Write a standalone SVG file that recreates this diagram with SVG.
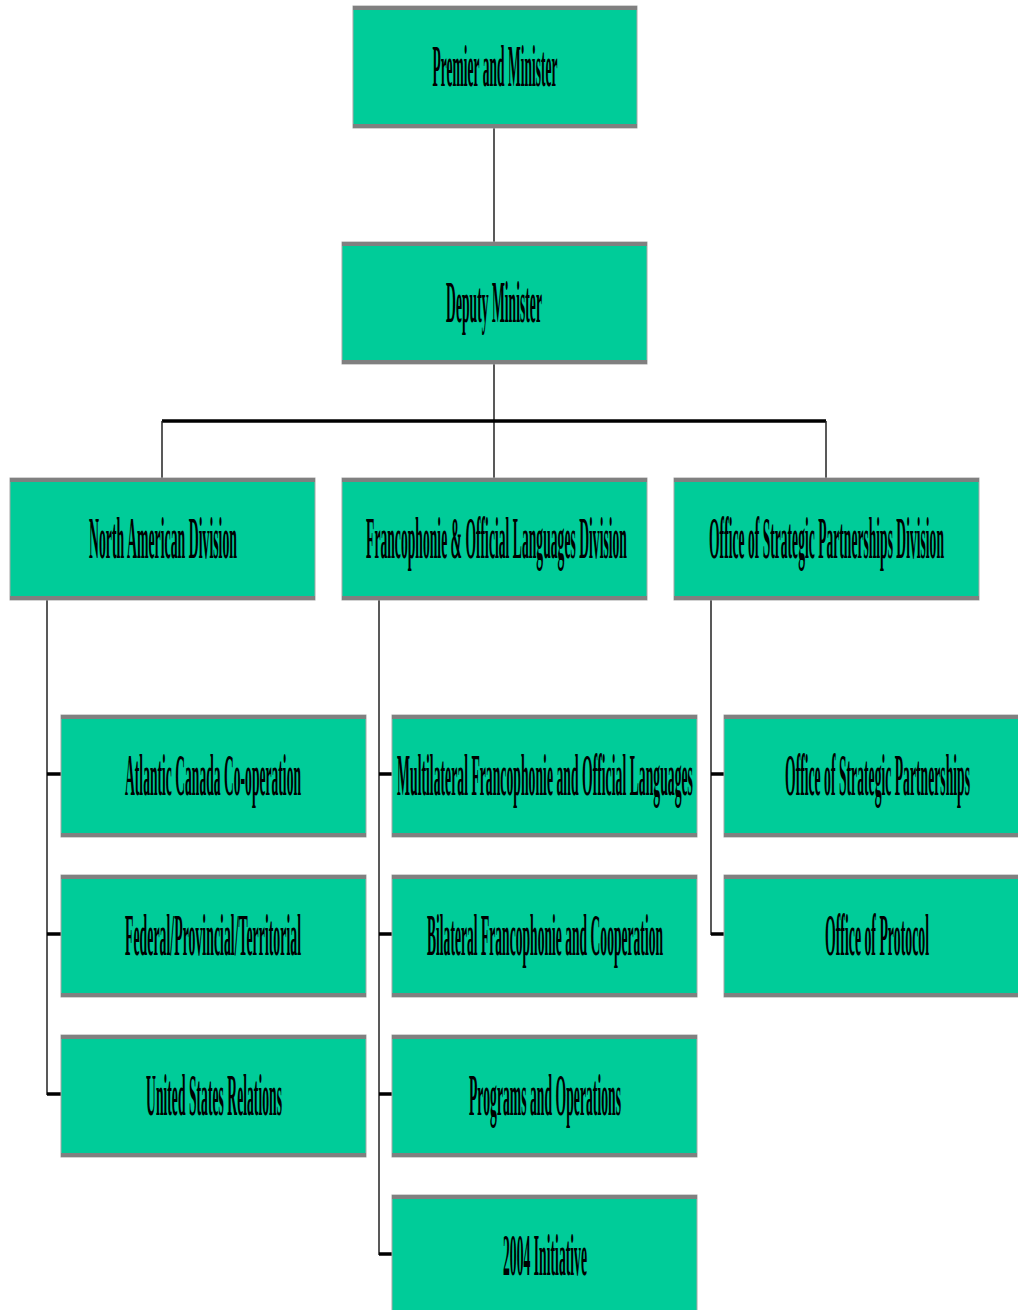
<svg xmlns="http://www.w3.org/2000/svg" width="1018" height="1310" viewBox="0 0 1018 1310">
<style>
.box{fill:#00CC99;stroke:#A6A6A6;stroke-width:1}
.bar{fill:#808080}
.lbl{font-family:"Liberation Serif","Times New Roman",serif;font-size:60px;font-weight:bold;fill:#000;text-anchor:middle}
.thin{stroke:#222;stroke-width:1.5;fill:none}
.thick{stroke:#000;stroke-width:3.5;fill:none}
</style>
<rect width="1018" height="1310" fill="#fff"/>
<g id="connectors">
<line class="thin" x1="494" y1="128" x2="494" y2="242"/>
<line class="thin" x1="494" y1="364" x2="494" y2="478"/>
<line class="thick" x1="162" y1="421" x2="826" y2="421"/>
<line class="thin" x1="162" y1="421" x2="162" y2="478"/>
<line class="thin" x1="826" y1="421" x2="826" y2="478"/>
<line class="thin" x1="47" y1="600" x2="47" y2="1095"/>
<line class="thick" x1="47" y1="774" x2="61" y2="774"/>
<line class="thick" x1="47" y1="934" x2="61" y2="934"/>
<line class="thick" x1="47" y1="1094" x2="61" y2="1094"/>
<line class="thin" x1="379" y1="600" x2="379" y2="1255"/>
<line class="thick" x1="379" y1="774" x2="392" y2="774"/>
<line class="thick" x1="379" y1="934" x2="392" y2="934"/>
<line class="thick" x1="379" y1="1094" x2="392" y2="1094"/>
<line class="thick" x1="379" y1="1254" x2="392" y2="1254"/>
<line class="thin" x1="711" y1="600" x2="711" y2="935"/>
<line class="thick" x1="711" y1="774" x2="724" y2="774"/>
<line class="thick" x1="711" y1="934" x2="724" y2="934"/>
</g>
<g id="premier">
<rect class="box" x="353" y="6" width="284" height="122"/>
<rect class="bar" x="353" y="6" width="284" height="4"/>
<rect class="bar" x="353" y="124" width="284" height="4"/>
<text class="lbl" transform="translate(495,86) scale(0.22,1)" textLength="568" lengthAdjust="spacingAndGlyphs">Premier and Minister</text>
</g>
<g id="deputy">
<rect class="box" x="342" y="242" width="305" height="122"/>
<rect class="bar" x="342" y="242" width="305" height="4"/>
<rect class="bar" x="342" y="360" width="305" height="4"/>
<text class="lbl" transform="translate(494,322) scale(0.22,1)" textLength="436" lengthAdjust="spacingAndGlyphs">Deputy Minister</text>
</g>
<g id="north-american">
<rect class="box" x="10" y="478" width="305" height="122"/>
<rect class="bar" x="10" y="478" width="305" height="4"/>
<rect class="bar" x="10" y="596" width="305" height="4"/>
<text class="lbl" transform="translate(163,558) scale(0.22,1)" textLength="673" lengthAdjust="spacingAndGlyphs">North American Division</text>
</g>
<g id="francophonie">
<rect class="box" x="342" y="478" width="305" height="122"/>
<rect class="bar" x="342" y="478" width="305" height="4"/>
<rect class="bar" x="342" y="596" width="305" height="4"/>
<text class="lbl" transform="translate(496.5,558) scale(0.22,1)" textLength="1186" lengthAdjust="spacingAndGlyphs">Francophonie &amp; Official Languages Division</text>
</g>
<g id="strategic-division">
<rect class="box" x="674" y="478" width="305" height="122"/>
<rect class="bar" x="674" y="478" width="305" height="4"/>
<rect class="bar" x="674" y="596" width="305" height="4"/>
<text class="lbl" transform="translate(826.5,558) scale(0.22,1)" textLength="1068" lengthAdjust="spacingAndGlyphs">Office of Strategic Partnerships Division</text>
</g>
<g id="atlantic">
<rect class="box" x="61" y="715" width="305" height="122"/>
<rect class="bar" x="61" y="715" width="305" height="4"/>
<rect class="bar" x="61" y="833" width="305" height="4"/>
<text class="lbl" transform="translate(213,795) scale(0.22,1)" textLength="800" lengthAdjust="spacingAndGlyphs">Atlantic Canada Co-operation</text>
</g>
<g id="fpt">
<rect class="box" x="61" y="875" width="305" height="122"/>
<rect class="bar" x="61" y="875" width="305" height="4"/>
<rect class="bar" x="61" y="993" width="305" height="4"/>
<text class="lbl" transform="translate(213,955) scale(0.22,1)" textLength="800" lengthAdjust="spacingAndGlyphs">Federal/Provincial/Territorial</text>
</g>
<g id="us-relations">
<rect class="box" x="61" y="1035" width="305" height="122"/>
<rect class="bar" x="61" y="1035" width="305" height="4"/>
<rect class="bar" x="61" y="1153" width="305" height="4"/>
<text class="lbl" transform="translate(214,1115) scale(0.22,1)" textLength="618" lengthAdjust="spacingAndGlyphs">United States Relations</text>
</g>
<g id="multilateral">
<rect class="box" x="392" y="715" width="305" height="122"/>
<rect class="bar" x="392" y="715" width="305" height="4"/>
<rect class="bar" x="392" y="833" width="305" height="4"/>
<text class="lbl" transform="translate(545,795) scale(0.22,1)" textLength="1345" lengthAdjust="spacingAndGlyphs">Multilateral Francophonie and Official Languages</text>
</g>
<g id="bilateral">
<rect class="box" x="392" y="875" width="305" height="122"/>
<rect class="bar" x="392" y="875" width="305" height="4"/>
<rect class="bar" x="392" y="993" width="305" height="4"/>
<text class="lbl" transform="translate(545,955) scale(0.22,1)" textLength="1073" lengthAdjust="spacingAndGlyphs">Bilateral Francophonie and Cooperation</text>
</g>
<g id="programs">
<rect class="box" x="392" y="1035" width="305" height="122"/>
<rect class="bar" x="392" y="1035" width="305" height="4"/>
<rect class="bar" x="392" y="1153" width="305" height="4"/>
<text class="lbl" transform="translate(545,1115) scale(0.22,1)" textLength="691" lengthAdjust="spacingAndGlyphs">Programs and Operations</text>
</g>
<g id="initiative-2004">
<rect class="box" x="392" y="1195" width="305" height="122"/>
<rect class="bar" x="392" y="1195" width="305" height="4"/>
<text class="lbl" transform="translate(545,1275) scale(0.22,1)" textLength="382" lengthAdjust="spacingAndGlyphs">2004 Initiative</text>
</g>
<g id="strategic-office">
<rect class="box" x="724" y="715" width="305" height="122"/>
<rect class="bar" x="724" y="715" width="305" height="4"/>
<rect class="bar" x="724" y="833" width="305" height="4"/>
<text class="lbl" transform="translate(877.5,795) scale(0.22,1)" textLength="841" lengthAdjust="spacingAndGlyphs">Office of Strategic Partnerships</text>
</g>
<g id="protocol">
<rect class="box" x="724" y="875" width="305" height="122"/>
<rect class="bar" x="724" y="875" width="305" height="4"/>
<rect class="bar" x="724" y="993" width="305" height="4"/>
<text class="lbl" transform="translate(877,955) scale(0.22,1)" textLength="473" lengthAdjust="spacingAndGlyphs">Office of Protocol</text>
</g>
</svg>
